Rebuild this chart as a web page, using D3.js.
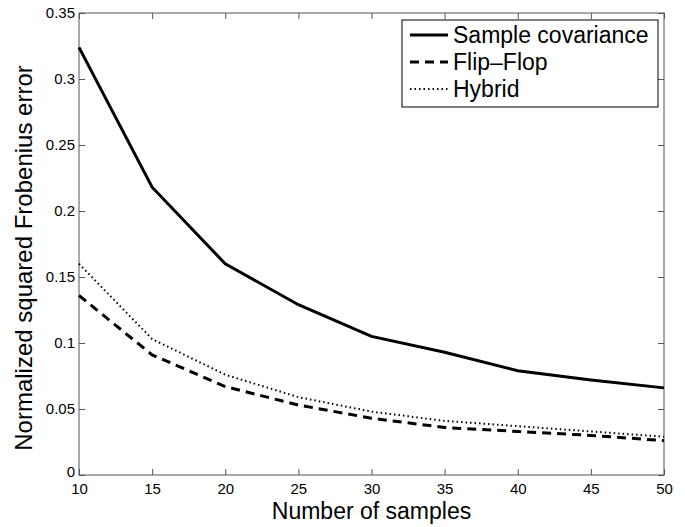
<!DOCTYPE html>
<html>
<head>
<meta charset="utf-8">
<script src="https://cdn.jsdelivr.net/npm/d3@7"></script>
<style>
  body { margin: 0; background: #fff; }
  text { font-family: "Liberation Sans", Arial, sans-serif; fill: #000; }
</style>
</head>
<body>
<svg id="chart"></svg>
<script>
var samples = [10, 15, 20, 25, 30, 35, 40, 45, 50];
var sampleCov = [0.324, 0.218, 0.160, 0.129, 0.105, 0.093, 0.079, 0.072, 0.066];
var flipFlop = [0.136, 0.091, 0.067, 0.053, 0.043, 0.036, 0.033, 0.030, 0.026];
var hybrid = [0.160, 0.103, 0.076, 0.059, 0.048, 0.041, 0.037, 0.033, 0.029];
var xTicks = [10, 15, 20, 25, 30, 35, 40, 45, 50];
var yTicks = [0, 0.05, 0.1, 0.15, 0.2, 0.25, 0.3, 0.35];
var seriesNames = ["Sample covariance", "Flip\u2013Flop", "Hybrid"];

var settings = { width: 685, height: 527, left: 79, right: 664, top: 13, bottom: 475 };

var svg = d3.select("#chart")
    .attr("width", settings.width)
    .attr("height", settings.height);

var x = d3.scaleLinear().domain([10, 50]).range([settings.left, settings.right]);
var y = d3.scaleLinear().domain([0, 0.35]).range([settings.bottom, settings.top]);

var axisColor = "#555";

// frame
svg.append("rect")
    .attr("x", settings.left).attr("y", settings.top)
    .attr("width", settings.right - settings.left)
    .attr("height", settings.bottom - settings.top)
    .attr("fill", "none").attr("stroke", axisColor).attr("stroke-width", 1);

// axes with inward ticks
function styleAxis(g) {
    g.select(".domain").remove();
    g.selectAll(".tick line").attr("stroke", axisColor);
    g.selectAll(".tick text").attr("font-size", 15).attr("font-family", "Liberation Sans, Arial, sans-serif");
}

svg.append("g")
    .attr("transform", "translate(0," + settings.bottom + ")")
    .call(d3.axisBottom(x).tickValues(xTicks).tickSizeInner(-6).tickSizeOuter(0).tickPadding(8).tickFormat(d3.format("d")))
    .call(styleAxis);

svg.append("g")
    .attr("transform", "translate(0," + settings.top + ")")
    .call(d3.axisTop(x).tickValues(xTicks).tickSizeInner(-6).tickSizeOuter(0).tickFormat(""))
    .call(styleAxis);

svg.append("g")
    .attr("transform", "translate(" + settings.left + ",0)")
    .call(d3.axisLeft(y).tickValues(yTicks).tickSizeInner(-6).tickSizeOuter(0).tickPadding(4).tickFormat(d => d === 0 ? "0" : String(+d.toFixed(2))))
    .call(styleAxis);

svg.append("g")
    .attr("transform", "translate(" + settings.right + ",0)")
    .call(d3.axisRight(y).tickValues(yTicks).tickSizeInner(-6).tickSizeOuter(0).tickFormat(""))
    .call(styleAxis);

// the "0" on the y axis sits slightly above the x tick labels
svg.selectAll("g .tick text").filter(function() { return this.textContent === "0"; })
    .attr("dy", "0.1em");

// lines
var styles = [
    { data: sampleCov, width: 3, dash: null },
    { data: flipFlop, width: 3, dash: "9,6" },
    { data: hybrid, width: 2, dash: "1.5,3" }
];

var line = d3.line()
    .x((d, i) => x(samples[i]))
    .y(d => y(d));

styles.forEach(function(s) {
    svg.append("path")
        .attr("d", line(s.data))
        .attr("fill", "none")
        .attr("stroke", "#000")
        .attr("stroke-width", s.width)
        .attr("stroke-dasharray", s.dash);
});

// legend
var legend = svg.append("g");
legend.append("rect")
    .attr("x", 402).attr("y", 20).attr("width", 256).attr("height", 87)
    .attr("fill", "#fff").attr("stroke", "#000").attr("stroke-width", 1);

seriesNames.forEach(function(name, i) {
    var cy = 35 + i * 27;
    legend.append("line")
        .attr("x1", 410).attr("x2", 448).attr("y1", cy).attr("y2", cy)
        .attr("stroke", "#000")
        .attr("stroke-width", styles[i].width)
        .attr("stroke-dasharray", styles[i].dash);
    legend.append("text")
        .attr("x", 453).attr("y", cy)
        .attr("dy", "0.35em")
        .attr("font-size", 23)
        .text(name);
});

// axis labels
svg.append("text")
    .attr("x", (settings.left + settings.right) / 2)
    .attr("y", 519)
    .attr("text-anchor", "middle")
    .attr("font-size", 23)
    .text("Number of samples");

svg.append("text")
    .attr("transform", "translate(32,258) rotate(-90)")
    .attr("text-anchor", "middle")
    .attr("font-size", 24)
    .text("Normalized squared Frobenius error");
</script>
</body>
</html>
